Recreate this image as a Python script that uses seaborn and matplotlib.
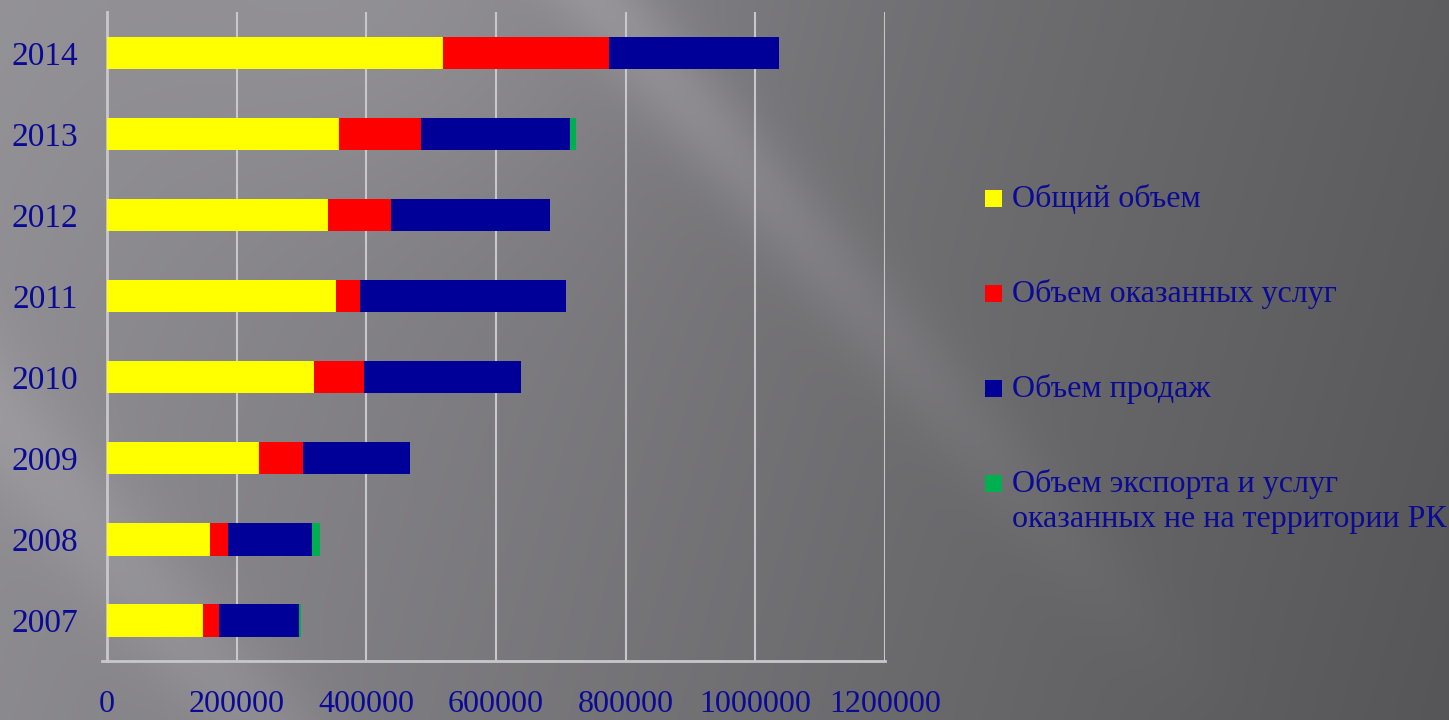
import numpy as np
import pandas as pd
import matplotlib
matplotlib.use("Agg")
import matplotlib.pyplot as plt
import seaborn as sns
from matplotlib.patches import Rectangle

years = ["2014", "2013", "2012", "2011", "2010", "2009", "2008", "2007"]
total_volume = [517600, 357300, 341300, 353600, 319200, 233800, 158200, 148500]
services = [256200, 127400, 97100, 37000, 76500, 68400, 28400, 24700]
sales = [262300, 229900, 244700, 317200, 242700, 165500, 130000, 123300]
export = [0, 8100, 0, 0, 0, 0, 11800, 3100]

series_names = ["Общий объем", "Объем оказанных услуг", "Объем продаж",
                "Объем экспорта и услуг\nоказанных не на территории РК"]
series_colors = ["#ffff00", "#ff0000", "#000099", "#00b050"]
xticks = [0, 200000, 400000, 600000, 800000, 1000000, 1200000]

text_color = "#0a0a96"
grid_color = "#c8c8cc"

sns.set_theme(style="white")
plt.rcParams["font.family"] = ["Liberation Serif", "DejaVu Serif"]

FW, FH = 1449, 720
fig = plt.figure(figsize=(FW / 100, FH / 100), dpi=100)

# background gradient
bg = fig.add_axes([0, 0, 1, 1], zorder=0)
yy, xx = np.mgrid[0:FH // 2, 0:FW // 2] * 2.0
base = 0.58 - 0.21 * (xx / FW) - 0.03 * (yy / FH)
base += 0.05 * np.exp(-(((xx - 420) / 260) ** 2 + (yy / 200) ** 2))
d1 = (xx - 600) - 0.85 * yy
s1 = 0.07 * np.exp(-(d1 / 55) ** 2) * np.clip(1.2 - yy / 600, 0, 1)
d2 = (xx + 357) - 0.85 * yy
s2 = 0.05 * np.exp(-(d2 / 70) ** 2)
val = np.clip(base + s1 + s2, 0, 1)
img = np.clip(np.dstack([val * 0.99, val * 0.98, val * 1.01]), 0, 1)
bg.imshow(img, aspect="auto", extent=[0, 1, 0, 1], origin="upper")
bg.axis("off")

ax = fig.add_axes([0.0738, 0.082, 0.537, 0.901], zorder=1)
ax.patch.set_alpha(0)

df = pd.DataFrame({"year": years, "a": total_volume, "b": services,
                   "c": sales, "d": export})
cum = [df["a"], df["a"] + df["b"], df["a"] + df["b"] + df["c"],
       df["a"] + df["b"] + df["c"] + df["d"]]

for i in range(3, -1, -1):
    sub = pd.DataFrame({"year": years, "val": cum[i]})
    sns.barplot(data=sub, y="year", x="val", order=years, orient="h",
                color=series_colors[i], saturation=1, width=0.4,
                ax=ax, zorder=3 + (3 - i), edgecolor="none", linewidth=0)

ax.set_xlim(0, 1200000)
ax.set_ylim(7.5, -0.5)
ax.set_xticks(xticks)
ax.set_xticklabels([str(v) for v in xticks])
ax.set_xlabel("")
ax.set_ylabel("")
ax.grid(False)
ax.xaxis.grid(True, color=grid_color, linewidth=1.5, zorder=1)
ax.set_axisbelow(True)

for s in ["top", "right"]:
    ax.spines[s].set_visible(False)
for s in ["left", "bottom"]:
    ax.spines[s].set_color(grid_color)
    ax.spines[s].set_linewidth(2)

ax.tick_params(axis="x", colors=grid_color, length=8, width=1.5,
               labelcolor=text_color, labelsize=23, pad=13, direction="out")
ax.tick_params(axis="y", which="major", length=0, labelcolor=text_color,
               labelsize=24, pad=21)
ax.set_yticks(np.arange(-0.5, 8, 1), minor=True)
ax.tick_params(axis="y", which="minor", length=6, width=1.5, colors=grid_color,
               direction="out")
ax.spines["bottom"].set_bounds(-0.006 * 1200000, 1200000)

# legend (manual, to match wrapped layout of the reference)
leg_y = [198, 293, 388, 483]
for name, col, ly in zip(series_names, series_colors, leg_y):
    fig.patches.append(Rectangle((985 / FW, 1 - (ly + 9) / FH), 17 / FW, 17 / FH,
                                 transform=fig.transFigure, facecolor=col,
                                 edgecolor="none", zorder=3))
    fig.text(1012 / FW, 1 - (ly - 14) / FH, name, color=text_color, fontsize=23,
             ha="left", va="top", linespacing=1.25)

fig.savefig("out.png", dpi=100)
